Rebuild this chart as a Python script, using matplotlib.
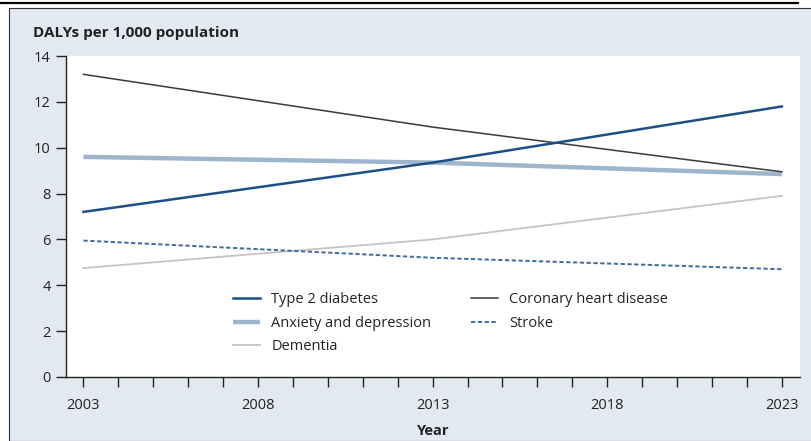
import matplotlib
matplotlib.use("Agg")
import matplotlib.pyplot as plt
from matplotlib.lines import Line2D
from matplotlib.patches import Rectangle

plt.rcParams["font.family"] = ["Open Sans", "DejaVu Sans"]

# -- data --
years = [2003, 2013, 2023]
diabetes = [7.2, 9.35, 11.8]
anxiety = [9.6, 9.35, 8.85]
dementia = [4.75, 6.0, 7.9]
coronary = [13.2, 10.9, 8.95]
stroke = [5.95, 5.2, 4.7]

x_ticks = list(range(2003, 2024))
x_labels = [str(y) if (y - 2003) % 5 == 0 else "" for y in x_ticks]
y_ticks = [0, 2, 4, 6, 8, 10, 12, 14]

PANEL = "#e3e9f0"
C_DIAB = "#1b4f85"
C_ANX = "#9db5cd"
C_DEM = "#c4c4c4"
C_COR = "#3a3a3a"
C_STR = "#3f6b9b"
TXT = "#222222"

fig = plt.figure(figsize=(8.11, 4.41), dpi=100)

# background panel with top rule
fig.add_artist(Rectangle((9 / 811, 0), 1, 1 - 8 / 441, transform=fig.transFigure,
                         facecolor=PANEL, edgecolor="#333333", linewidth=0.8, zorder=-10))
fig.add_artist(Line2D([0, 798 / 811], [1 - 2.5 / 441] * 2, transform=fig.transFigure,
                      color="black", linewidth=1.6))

ax = fig.add_axes([66 / 811, 1 - 377 / 441, (800 - 66) / 811, (377 - 56) / 441])
ax.set_facecolor("white")
ax.set_zorder(2)

ax.plot(years, anxiety, color=C_ANX, linewidth=3.2, label="Anxiety and depression",
        solid_capstyle="butt")
ax.plot(years, dementia, color=C_DEM, linewidth=1.3, label="Dementia")
ax.plot(years, coronary, color=C_COR, linewidth=1.1, label="Coronary heart disease")
ax.plot(years, stroke, color=C_STR, linewidth=1.4, linestyle=(0, (2.2, 1.3)), label="Stroke")
ax.plot(years, diabetes, color=C_DIAB, linewidth=1.8, label="Type 2 diabetes")

ax.set_xlim(2002.5, 2023.52)
ax.set_ylim(0, 14)
ax.set_xticks(x_ticks)
ax.set_xticklabels(x_labels)
ax.set_yticks(y_ticks)

for s in ["top", "right"]:
    ax.spines[s].set_visible(False)
for s in ["left", "bottom"]:
    ax.spines[s].set_linewidth(1.0)
    ax.spines[s].set_color("#222222")
ax.tick_params(axis="both", direction="out", length=7, width=1.0, color="#222222",
               labelsize=10.5, labelcolor=TXT)
ax.tick_params(axis="x", pad=8)
ax.tick_params(axis="y", pad=4)

ax.set_xlabel("Year", fontsize=10.5, fontweight="bold", color=TXT, labelpad=8)
fig.text(33 / 811, 1 - 33 / 441, "DALYs per 1,000 population", fontsize=11,
         fontweight="bold", color=TXT, va="center", ha="left")

# legend in the reference's order (column-wise)
h = {l.get_label(): l for l in ax.get_lines()}
order = ["Type 2 diabetes", "Anxiety and depression", "Dementia",
         "Coronary heart disease", "Stroke"]
leg = ax.legend([h[k] for k in order], order, ncol=2, frameon=False,
                loc="upper left", bbox_to_anchor=(0.219, 0.283), fontsize=10.5,
                handlelength=1.9, handletextpad=0.75, columnspacing=2.7,
                labelspacing=0.6, borderaxespad=0)
for t in leg.get_texts():
    t.set_color(TXT)

fig.savefig("out.png", dpi=100)
